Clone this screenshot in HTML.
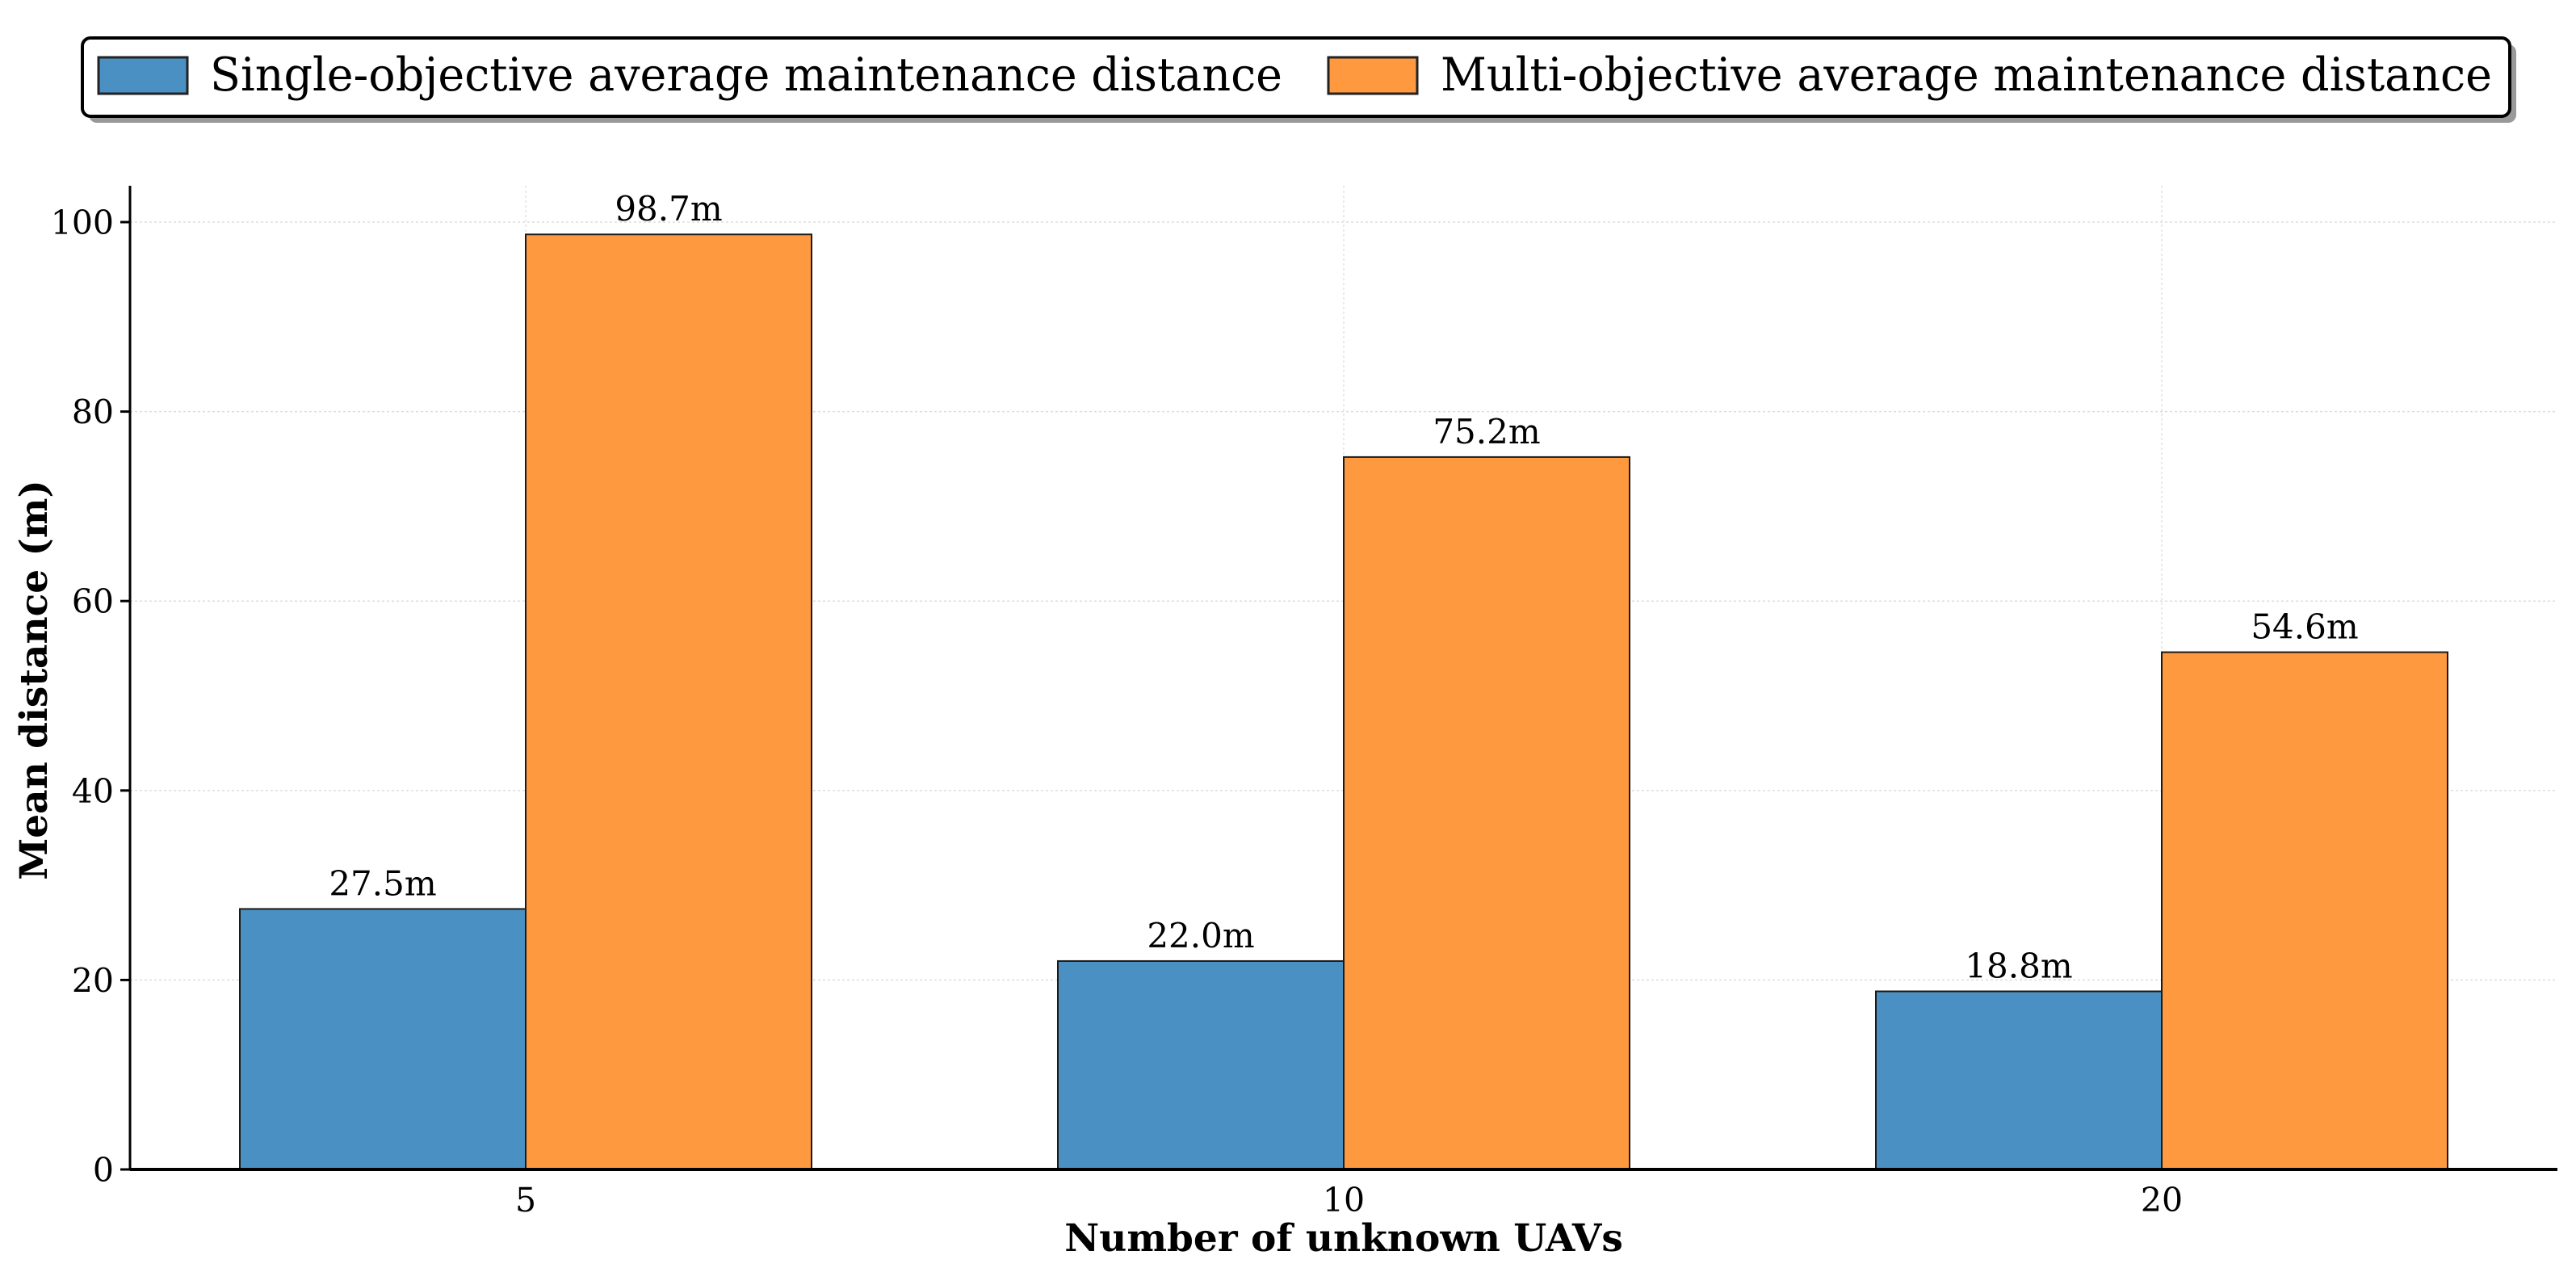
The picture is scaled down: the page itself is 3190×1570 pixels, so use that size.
<!DOCTYPE html>
<html><head><meta charset="utf-8"><style>
html,body{margin:0;padding:0;background:#fff;}
svg{display:block;font-family:"DejaVu Serif","Liberation Serif",serif;}
</style></head><body>
<svg id="chart" width="3190" height="1570" viewBox="0 0 3190 1570" xmlns="http://www.w3.org/2000/svg">
<g id="legend">
  <rect x="110" y="55" width="3006" height="97" rx="10" fill="#999"/>
  <rect x="102" y="47" width="3006" height="97" rx="10" fill="#fff" stroke="#000" stroke-width="4"/>
  <rect x="122" y="71" width="110" height="45" fill="#4a90c2" stroke="#222" stroke-width="3"/>
  <text x="260" y="112" font-size="57" textLength="1328" lengthAdjust="spacingAndGlyphs">Single-objective average maintenance distance</text>
  <rect x="1645" y="71" width="110" height="45" fill="#ff9940" stroke="#222" stroke-width="3"/>
  <text x="1784" y="112" font-size="57" textLength="1302" lengthAdjust="spacingAndGlyphs">Multi-objective average maintenance distance</text>
</g>
<g id="plot"></g>
</svg>
<script>
const categories = ["5", "10", "20"];
const singleValues = [27.5, 22.0, 18.8];
const multiValues = [98.7, 75.2, 54.6];
const yTicks = [0, 20, 40, 60, 80, 100];

const NS = "http://www.w3.org/2000/svg";
const plot = document.getElementById("plot");
const L = 161, R = 3167, B = 1448, T = 230;
const catStart = 651, catStep = 1013, barW = 354;
function xPos(i){ return catStart + i*catStep; }
function yPos(v){ return B - v*11.73; }
function mk(tag, attrs, parent){
  const e = document.createElementNS(NS, tag);
  for (const k in attrs) e.setAttribute(k, attrs[k]);
  (parent||plot).appendChild(e);
  return e;
}
yTicks.forEach(t=>{
  const g = mk("line",{x1:L,x2:R,y1:yPos(t),y2:yPos(t),stroke:"#ddd","stroke-width":1.5,"stroke-dasharray":"3,3"});
  
  
});
categories.forEach((c,i)=>{
  const g = mk("line",{x1:xPos(i),x2:xPos(i),y1:T,y2:B,stroke:"#e4e4e4","stroke-width":1.5,"stroke-dasharray":"3,3"});
  
  
});
categories.forEach((c,i)=>{
  const x = xPos(i);
  const s = singleValues[i], m = multiValues[i];
  const b1 = mk("rect",{x:x-barW,y:yPos(s),width:barW,height:B-yPos(s),fill:"#4a90c2",stroke:"#1a1a1a","stroke-width":2});
  
  
  const b2 = mk("rect",{x:x,y:yPos(m),width:barW,height:B-yPos(m),fill:"#ff9940",stroke:"#1a1a1a","stroke-width":2});
  
  
  const l1 = mk("text",{x:x-barW/2,y:yPos(s)-17,"font-size":42,"text-anchor":"middle"});
  l1.textContent = s.toFixed(1)+"m";
  
  
  const l2 = mk("text",{x:x+barW/2,y:yPos(m)-17,"font-size":42,"text-anchor":"middle"});
  l2.textContent = m.toFixed(1)+"m";
  
  
  const tl = mk("text",{x:x,y:B+52,"font-size":41,"text-anchor":"middle"});
  tl.textContent = c;
  
  
});
yTicks.forEach(t=>{
  const tk = mk("line",{x1:L-12,x2:L,y1:yPos(t),y2:yPos(t),stroke:"#000","stroke-width":3});
  
  
  const tl = mk("text",{x:L-20,y:yPos(t)+15,"font-size":41,"text-anchor":"end"});
  tl.textContent = t;
  
  
});
const ay = mk("line",{x1:L,x2:L,y1:T,y2:B,stroke:"#000","stroke-width":3});


const ax = mk("line",{x1:L,x2:R,y1:B,y2:B,stroke:"#000","stroke-width":4});


const xt = mk("text",{x:(L+R)/2,y:1549,"font-size":47,"font-weight":"bold","text-anchor":"middle"});
xt.textContent = "Number of unknown UAVs";


const yt = mk("text",{x:0,y:0,"font-size":47,"font-weight":"bold","text-anchor":"middle",transform:"translate(58,842) rotate(-90)"});
yt.textContent = "Mean distance (m)";


</script>
</body></html>
